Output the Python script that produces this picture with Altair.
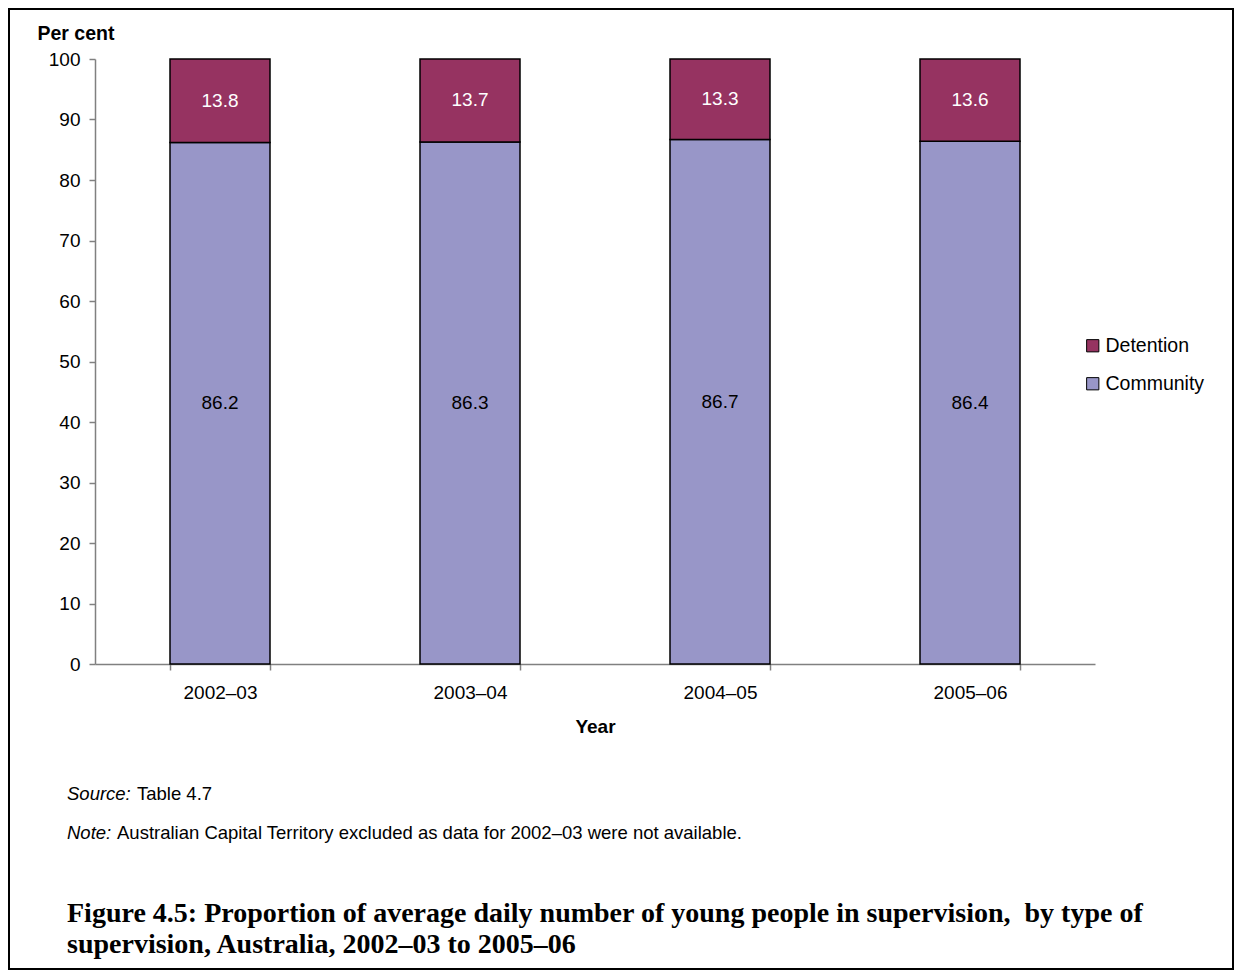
import altair as alt
import pandas as pd

years = ["2002–03", "2003–04", "2004–05", "2005–06"]
community = [86.2, 86.3, 86.7, 86.4]
detention = [13.8, 13.7, 13.3, 13.6]
series = ["Detention", "Community"]
colors = ["#963361", "#9896C8"]

rows = []
for y, c, d in zip(years, community, detention):
    rows.append({"Year": y, "Type": "Community", "Value": c, "ord": 0})
    rows.append({"Year": y, "Type": "Detention", "Value": d, "ord": 1})
df = pd.DataFrame(rows)

FONT = "Liberation Sans"

x = alt.X("Year:N", sort=years, title="Year",
          scale=alt.Scale(paddingInner=0.6, paddingOuter=0.3),
          axis=alt.Axis(labelAngle=0, tickBand="extent", tickSize=6, domainColor="#808080",
                        tickColor="#808080", domainWidth=1.5, tickWidth=1.5,
                        labelFontSize=19, labelFont=FONT, labelColor="black", labelPadding=13,
                        titleFontSize=19, titleFont=FONT, titleFontWeight="bold",
                        titlePadding=15, titleColor="black"))
y = alt.Y("Value:Q", stack="zero",
          scale=alt.Scale(domain=[0, 100], nice=False),
          axis=alt.Axis(values=list(range(0, 101, 10)), tickSize=6, grid=False,
                        domainColor="#808080", tickColor="#808080", domainWidth=1.5, tickWidth=1.5,
                        labelFontSize=19, labelFont=FONT, labelColor="black", labelPadding=9,
                        title="Per cent", titleAngle=0, titleAlign="left", titleBaseline="middle",
                        titleX=-58, titleY=-26, titleFontSize=19.5, titleFont=FONT,
                        titleFontWeight="bold", titleColor="black"))

bars = alt.Chart(df).mark_bar(stroke="black", strokeWidth=1.5, width=100).encode(
    x=x, y=y,
    color=alt.Color("Type:N", scale=alt.Scale(domain=series, range=colors),
                    legend=alt.Legend(title=None, orient="none", legendX=988, legendY=277,
                                      symbolType="square", symbolSize=150,
                                      symbolStrokeColor="black", symbolStrokeWidth=1,
                                      labelFontSize=19.5, labelFont=FONT, labelColor="black",
                                      labelOffset=3, rowPadding=17)),
    order=alt.Order("ord:Q"),
)

# labels centered in stacked segments
lab_rows = []
for yv, c, d in zip(years, community, detention):
    lab_rows.append({"Year": yv, "mid": c / 2, "lab": f"{c:.1f}", "Type": "Community"})
    lab_rows.append({"Year": yv, "mid": c + d / 2, "lab": f"{d:.1f}", "Type": "Detention"})
lab_df = pd.DataFrame(lab_rows)
labels = alt.Chart(lab_df).mark_text(fontSize=19, font=FONT, baseline="middle").encode(
    x=alt.X("Year:N", sort=years),
    y=alt.Y("mid:Q"),
    text="lab:N",
    color=alt.Color("Type:N", scale=alt.Scale(domain=["Detention", "Community"], range=["white", "black"]), legend=None),
)

one = pd.DataFrame({"a": [0]})

def txt(s, xv, yv, size=18.5, style="normal", weight="normal", font=FONT):
    return alt.Chart(one).mark_text(text=s, align="left", baseline="middle", fontSize=size,
                                    fontStyle=style, fontWeight=weight, font=font, color="black").encode(
        x=alt.value(xv), y=alt.value(yv))

notes = (
    txt("Source:", -28, 735, style="italic")
    + txt("Table 4.7", 42, 735)
    + txt("Note:", -28, 774, style="italic")
    + txt("Australian Capital Territory excluded as data for 2002–03 were not available.", 22, 774)
    + txt("Figure 4.5: Proportion of average daily number of young people in supervision,\u00a0 by type of",
          -28, 855, size=28, weight="bold", font="Liberation Serif")
    + txt("supervision, Australia, 2002–03 to 2005–06", -28, 886, size=28, weight="bold", font="Liberation Serif")
)

frame = alt.Chart(one).mark_rect(fill=None, stroke="black", strokeWidth=2).encode(
    x=alt.value(-86), x2=alt.value(1138), y=alt.value(-50), y2=alt.value(910))

chart = alt.layer(bars, labels, notes, frame).resolve_scale(color="independent").properties(
    width=1000, height=605,
    autosize="none",
    padding={"left": 87, "top": 51, "right": 139, "bottom": 307},
).configure_view(stroke=None)

chart.save("out.html", embed_options={"renderer": "svg", "actions": False})
